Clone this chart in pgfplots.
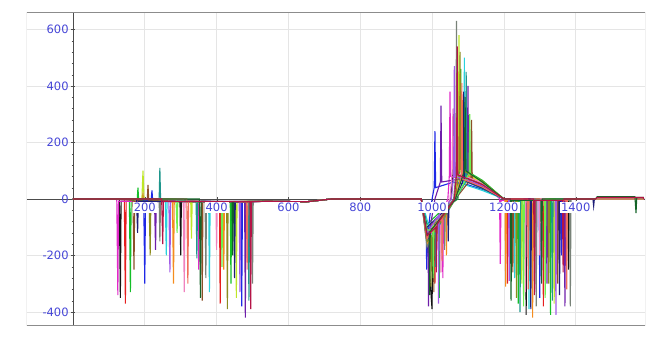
\documentclass[border=0pt]{standalone}
\usepackage{pgfplots}
\pgfplotsset{compat=1.18}
\usepackage{fontspec}
\setmainfont{DejaVu Sans}
\definecolor{lblue}{RGB}{70,70,215}
\definecolor{c1}{RGB}{20,20,20}
\definecolor{c2}{RGB}{230,30,30}
\definecolor{c3}{RGB}{20,190,40}
\definecolor{c4}{RGB}{30,40,230}
\definecolor{c5}{RGB}{225,40,200}
\definecolor{c6}{RGB}{40,210,220}
\definecolor{c7}{RGB}{190,230,40}
\definecolor{c8}{RGB}{110,30,170}
\definecolor{c9}{RGB}{245,140,30}
\definecolor{c10}{RGB}{140,80,40}
\definecolor{c11}{RGB}{240,130,190}
\definecolor{c12}{RGB}{30,150,140}
\definecolor{c13}{RGB}{120,130,120}
\definecolor{c14}{RGB}{140,140,30}
\definecolor{c15}{RGB}{30,30,120}
\definecolor{c16}{RGB}{160,90,230}
\definecolor{c17}{RGB}{110,240,80}
\definecolor{c18}{RGB}{240,110,90}
\definecolor{c19}{RGB}{20,100,40}
\definecolor{c20}{RGB}{180,20,70}
\begin{document}
\begin{tikzpicture}
\begin{axis}[
  scale only axis, width=618pt, height=312pt,
  xmin=-128, xmax=1593, ymin=-446, ymax=658,
  axis lines=middle, axis line style={-, draw=black!70, line width=0.8pt},
  xtick={200,400,...,1400}, ytick={-400,-200,...,600},
  xticklabels={},
  minor y tick num=4,
  hide obscured y ticks=false,
  grid=major, grid style={black!10, line width=0.6pt},
  tick style={black!70},
  /pgf/number format/assume math mode=true,
  /pgf/number format/1000 sep={},
  tick label style={font=\fontsize{11.5}{13}\selectfont, text=lblue},
  yticklabel style={inner sep=2pt},
  every axis plot/.append style={line width=1.1pt, mark=none},
  cycle list={{c1},{c2},{c3},{c4},{c5},{c6},{c7},{c8},{c9},{c10},{c11},{c12},{c13},{c14},{c15},{c16},{c17},{c18},{c19},{c20}},
  clip=true,
]
\addplot coordinates {(0,0)(129,0)(132,-350)(134,-8)(298,-10)(300,-200)(302,-10)(540,-8)(650,-10)(720,0)(970,0)(986,-140)(1000,-390)(1002,-110)(1052,0)(1058,90)(1060,300)(1062,90)(1140,54)(1200,0)(1260,0)(1262,-410)(1264,-5)(1378,-5)(1380,-250)(1382,0)(1590,0)};
\addplot coordinates {(0,0)(143,0)(146,-370)(148,-8)(193,0)(195,20)(197,-5)(408,-10)(410,-370)(412,-10)(540,-8)(650,-10)(720,0)(970,0)(986,-110)(1007,-80)(1008,-300)(1010,-75)(1064,0)(1070,70)(1072,420)(1074,70)(1140,42)(1200,0)(1208,0)(1210,-300)(1212,-5)(1308,-5)(1310,-380)(1312,0)(1590,0)};
\addplot coordinates {(0,0)(157,0)(160,-330)(162,-8)(179,0)(181,40)(183,-5)(438,-10)(440,-300)(442,-10)(540,-8)(650,-10)(720,0)(970,0)(986,-90)(1019,-50)(1020,-350)(1022,-45)(1072,0)(1078,110)(1080,460)(1082,110)(1140,66)(1200,0)(1238,0)(1240,-370)(1242,-5)(1328,-5)(1330,-410)(1332,0)(1590,0)};
\addplot coordinates {(0,0)(197,0)(200,-300)(202,-8)(218,0)(220,30)(222,-5)(468,-10)(470,-380)(472,-10)(540,-8)(650,-10)(720,0)(970,0)(984,-140)(985,-250)(987,-130)(1000,0)(1006,40)(1008,240)(1010,40)(1060,60)(1100,50)(1150,30)(1200,0)(1298,0)(1300,-350)(1302,-5)(1358,-5)(1360,-200)(1362,0)(1590,0)};
\addplot coordinates {(0,0)(122,0)(125,-340)(127,-8)(348,-10)(350,-250)(352,-10)(540,-8)(650,-10)(720,0)(970,0)(986,-150)(1029,-50)(1030,-280)(1032,-40)(1044,0)(1048,80)(1050,380)(1052,80)(1140,48)(1186,4)(1188,0)(1190,-230)(1192,-5)(1288,-5)(1290,-330)(1292,0)(1590,0)};
\addplot coordinates {(0,0)(257,0)(260,-200)(262,-8)(378,-10)(380,-330)(382,-10)(540,-8)(650,-10)(720,0)(970,0)(994,-110)(995,-200)(997,-100)(1065,0)(1088,50)(1090,500)(1092,50)(1140,30)(1200,0)(1228,0)(1230,-280)(1232,-5)(1268,-5)(1270,-390)(1272,0)(1590,0)};
\addplot coordinates {(0,0)(192,0)(195,100)(198,0)(328,-10)(330,-140)(332,-10)(453,-10)(455,-350)(457,-10)(540,-8)(650,-10)(720,0)(970,0)(986,-130)(1014,-75)(1015,-150)(1017,-70)(1065,0)(1073,100)(1075,580)(1077,100)(1140,60)(1200,0)(1248,0)(1250,-300)(1252,-5)(1338,-5)(1340,-370)(1342,0)(1590,0)};
\addplot coordinates {(0,0)(227,0)(230,-180)(232,-8)(478,-10)(480,-420)(482,-10)(540,-8)(650,-10)(720,0)(970,0)(989,-130)(990,-380)(992,-120)(1008,0)(1023,60)(1025,330)(1027,60)(1098,75)(1100,400)(1102,75)(1140,45)(1200,0)(1318,0)(1320,-300)(1322,-5)(1368,-5)(1370,-380)(1372,0)(1590,0)};
\addplot coordinates {(0,0)(277,0)(280,-300)(282,-8)(418,-10)(420,-250)(422,-10)(540,-8)(650,-10)(720,0)(970,0)(986,-160)(1039,-50)(1040,-200)(1042,-40)(1065,0)(1083,90)(1085,350)(1087,90)(1140,54)(1200,0)(1203,0)(1205,-310)(1207,-5)(1278,-5)(1280,-420)(1282,0)(1590,0)};
\addplot coordinates {(0,0)(167,0)(170,-250)(172,-8)(207,0)(209,50)(211,-5)(358,-10)(360,-360)(362,-10)(540,-8)(650,-10)(720,0)(970,0)(986,-120)(1004,-100)(1005,-330)(1007,-90)(1065,0)(1108,70)(1110,280)(1112,70)(1150,40)(1200,0)(1223,0)(1225,-260)(1227,-5)(1348,-5)(1350,-300)(1352,0)(1590,0)};
\addplot coordinates {(0,0)(307,0)(310,-330)(312,-8)(398,-10)(400,-180)(402,-10)(540,-8)(650,-10)(720,0)(970,0)(986,-140)(1024,-60)(1025,-260)(1027,-55)(1050,0)(1056,95)(1058,320)(1060,95)(1140,57)(1200,0)(1258,0)(1260,-330)(1262,-5)(1298,-5)(1300,-200)(1302,0)(1590,0)};
\addplot coordinates {(0,0)(240,0)(242,110)(244,0)(343,-10)(345,-210)(347,-10)(488,-10)(490,-360)(492,-10)(540,-8)(650,-10)(720,0)(970,0)(986,-150)(1009,-120)(1010,-240)(1012,-110)(1065,0)(1093,60)(1095,450)(1097,60)(1140,36)(1200,0)(1243,0)(1245,-400)(1247,-5)(1333,-5)(1335,-360)(1337,0)(1590,0)};
\addplot coordinates {(0,0)(240,0)(242,-150)(244,-8)(368,-10)(370,-280)(372,-10)(498,-10)(500,-300)(502,-10)(540,-8)(650,-10)(720,0)(970,0)(986,-170)(1034,-40)(1035,-180)(1037,-35)(1060,0)(1066,85)(1068,630)(1070,85)(1140,51)(1200,0)(1288,0)(1290,-380)(1292,-5)(1383,-5)(1385,-380)(1387,0)(1590,0)};
\addplot coordinates {(0,0)(212,0)(215,-200)(217,-8)(428,-10)(430,-390)(432,-10)(540,-8)(650,-10)(720,0)(970,0)(986,-150)(996,-140)(997,-310)(999,-130)(1065,0)(1076,105)(1078,520)(1080,105)(1140,63)(1200,0)(1233,0)(1235,-350)(1237,-5)(1323,-5)(1325,-300)(1327,0)(1590,0)};
\addplot coordinates {(0,0)(177,0)(180,-120)(182,-8)(448,-10)(450,-280)(452,-10)(540,-8)(650,-10)(720,0)(970,0)(986,-100)(1044,-30)(1045,-150)(1047,-25)(1068,0)(1086,65)(1088,380)(1090,65)(1140,39)(1200,0)(1273,0)(1275,-390)(1277,-5)(1353,-5)(1355,-340)(1357,0)(1448,0)(1450,-25)(1452,0)(1590,0)};
\addplot coordinates {(0,0)(267,0)(270,-260)(272,-8)(463,-10)(465,-330)(467,-10)(540,-8)(650,-10)(720,0)(970,0)(986,-120)(1017,-60)(1018,-370)(1020,-55)(1054,0)(1060,80)(1062,470)(1064,80)(1140,48)(1200,0)(1213,0)(1215,-290)(1217,-5)(1343,-5)(1345,-410)(1347,0)(1590,0)};
\addplot coordinates {(0,0)(287,0)(290,-120)(292,-8)(413,-10)(415,-240)(417,-10)(540,-8)(650,-10)(720,0)(970,0)(986,-110)(1002,-110)(1003,-280)(1005,-100)(1065,0)(1103,90)(1105,300)(1107,90)(1150,50)(1200,0)(1253,0)(1255,-380)(1257,-5)(1313,-5)(1315,-350)(1317,0)(1590,0)};
\addplot coordinates {(0,0)(317,0)(320,-300)(322,-8)(483,-10)(485,-250)(487,-10)(540,-8)(650,-10)(720,0)(970,0)(986,-140)(1027,-60)(1028,-220)(1030,-55)(1065,0)(1081,70)(1083,410)(1085,70)(1140,42)(1200,0)(1266,0)(1268,-320)(1270,-5)(1373,-5)(1375,-320)(1377,0)(1590,0)};
\addplot coordinates {(0,0)(352,0)(355,-350)(357,-8)(443,-10)(445,-200)(447,-10)(540,-8)(650,-10)(720,0)(970,0)(986,-125)(992,-125)(993,-340)(995,-115)(1065,0)(1090,100)(1092,360)(1094,100)(1140,60)(1200,0)(1218,0)(1220,-360)(1222,-5)(1303,-5)(1305,-300)(1307,0)(1455,0)(1460,8)(1565,8)(1568,-50)(1570,5)(1590,5)};
\addplot coordinates {(0,0)(247,0)(250,-160)(252,-8)(493,-10)(495,-390)(497,-10)(540,-8)(650,-10)(720,0)(970,0)(986,-130)(1011,-100)(1012,-260)(1014,-90)(1062,0)(1068,85)(1070,540)(1072,85)(1140,51)(1200,0)(1283,0)(1285,-340)(1287,-5)(1363,-5)(1365,-260)(1367,0)(1455,0)(1460,5)(1588,5)(1590,0)};
\draw[black!45, line width=1pt] (rel axis cs:0,0) rectangle (rel axis cs:1,1);
\foreach \t in {200,400,600,800,1000,1200,1400} {
  \edef\temp{\noexpand\node[fill=white, inner sep=1pt, anchor=north, text=lblue, font=\noexpand\fontsize{11.5}{13}\noexpand\selectfont] at ([yshift=-3pt]axis cs:\t,0) {\t};}
  \temp
}
\node[rotate=90, text=lblue, font=\fontsize{11.5}{13}\selectfont] at ([xshift=-12pt]rel axis cs:0,0.5) {Coupling forces, kN};
\node[text=lblue, font=\fontsize{11.5}{13}\selectfont, below, inner sep=1pt] at ([yshift=-1pt]rel axis cs:0.49,0) {Distance, m};
\end{axis}
\pgfresetboundingbox
\path[use as bounding box] ([shift={(-27pt,-15pt)}]current axis.south west) rectangle ([shift={(3pt,13pt)}]current axis.north east);
\end{tikzpicture}
\end{document}
